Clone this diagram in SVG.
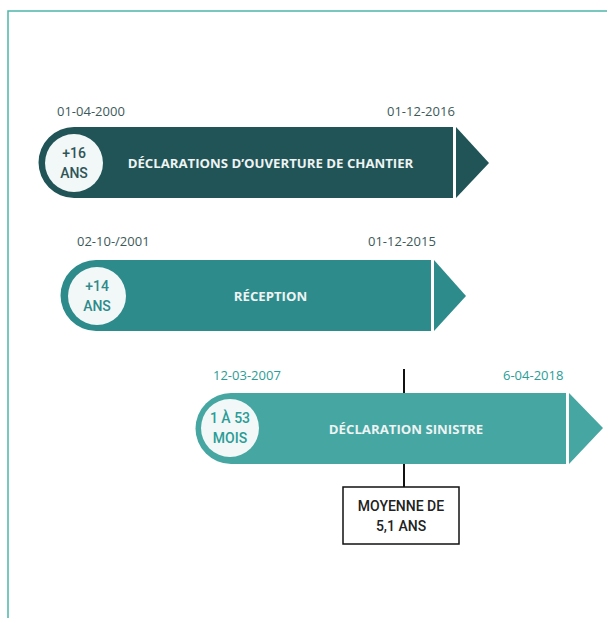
<svg xmlns="http://www.w3.org/2000/svg" width="607" height="618" viewBox="0 0 607 618">
<style>
.date{font-family:"Open Sans",sans-serif;font-size:13px}
.title{font-family:"Open Sans",sans-serif;font-size:13.2px;font-weight:bold;fill:#eef3f3;text-anchor:middle}
.circ{fill:#f2f7f7}
.ct{font-family:Roboto,sans-serif;font-size:14px;font-weight:500;text-anchor:middle}
.box{font-family:Roboto,sans-serif;font-size:14px;font-weight:500;text-anchor:middle;fill:#222}
</style>
<rect width="607" height="618" fill="#fff"/>
<g id="frame"><polyline points="8,618 8,11 607,11" fill="none" stroke="#4db6ac" stroke-width="1.5"/></g>
<g id="bar1">
<path d="M74,127 H453 V198 H74 A35.5,35.5 0 0 1 74,127 Z" fill="#215457"/>
<polygon points="456,127 489,163 456,198" fill="#215457"/>
<circle class="circ" cx="74" cy="163" r="29"/>
<text class="ct" x="74" y="158" fill="#2f5557">+16</text>
<text class="ct" x="74" y="178" fill="#2f5557">ANS</text>
<text class="title" x="270.5" y="167.5">DÉCLARATIONS D’OUVERTURE DE CHANTIER</text>
<text class="date" x="57" y="116" fill="#3d5a5a">01-04-2000</text>
<text class="date" x="387" y="116" fill="#3d5a5a">01-12-2016</text>
</g>
<g id="bar2">
<path d="M96,260 H431 V331 H96 A35.5,35.5 0 0 1 96,260 Z" fill="#2e8b8b"/>
<polygon points="434,260 466,296 434,331" fill="#2e8b8b"/>
<circle class="circ" cx="97" cy="296" r="29"/>
<text class="ct" x="97" y="291" fill="#2e8b8b">+14</text>
<text class="ct" x="97" y="311" fill="#2e8b8b">ANS</text>
<text class="title" x="270.5" y="300.5">RÉCEPTION</text>
<text class="date" x="77" y="246" fill="#3d5a5a">02-10-/2001</text>
<text class="date" x="368" y="246" fill="#3d5a5a">01-12-2015</text>
</g>
<g id="bar3">
<path d="M231,393 H566 V464 H231 A35.5,35.5 0 0 1 231,393 Z" fill="#45a6a2"/>
<polygon points="569,393 603,428 569,464" fill="#45a6a2"/>
<circle class="circ" cx="230" cy="428" r="29"/>
<text class="ct" x="230" y="423" fill="#2a9d96">1 À 53</text>
<text class="ct" x="230" y="443" fill="#2a9d96">MOIS</text>
<text class="title" x="406" y="433.5">DÉCLARATION SINISTRE</text>
<text class="date" x="213" y="380" fill="#2a9d96">12-03-2007</text>
<text class="date" x="503" y="380" fill="#2a9d96">6-04-2018</text>
</g>
<g id="connectors">
<line x1="404" y1="369" x2="404" y2="393" stroke="#111" stroke-width="2"/>
<line x1="404" y1="464" x2="404" y2="487" stroke="#111" stroke-width="2"/>
</g>
<g id="moyenne">
<rect x="343" y="487" width="116" height="57" fill="#fff" stroke="#111" stroke-width="1.5"/>
<text class="box" x="401" y="511">MOYENNE DE</text>
<text class="box" x="401" y="531">5,1 ANS</text>
</g>
</svg>
